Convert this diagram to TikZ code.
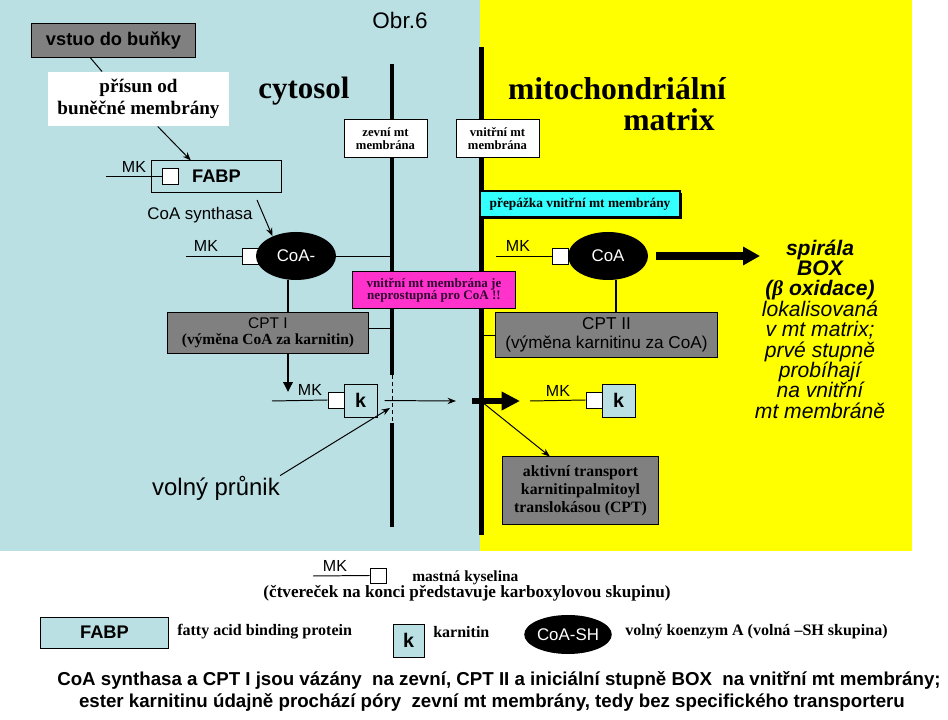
\documentclass[tikz,border=0pt]{standalone}
\usepackage{fontspec}
\setmainfont{Liberation Serif}
\setsansfont{Liberation Sans}
\usetikzlibrary{arrows.meta,shapes.geometric,shadows}

\definecolor{cytoblue}{RGB}{186,224,228}
\definecolor{mitoyellow}{RGB}{255,255,0}
\definecolor{boxgray}{RGB}{128,128,128}
\definecolor{septcyan}{RGB}{51,255,255}
\definecolor{pinkbox}{RGB}{255,51,204}
\definecolor{pinktext}{RGB}{51,0,51}
\newcommand{\pxu}{0.7113pt}
\newcommand{\fsz}[2]{\fontsize{#1pt}{#2pt}\selectfont}

\begin{document}
\begin{tikzpicture}[x=0.025cm,y=-0.025cm,>={Stealth[length=6pt,width=4.5pt]},
  thin line/.style={line width=0.7pt},
  membrane/.style={line width=2.9pt},
  box/.style={draw,line width=0.7pt,inner sep=0pt,align=center},
  gray box/.style={box,fill=boxgray},
  label box/.style={box,fill=white,font=\bfseries\fsz{9}{9.3}},
  sq/.style={draw,line width=0.7pt,fill=white,minimum size=16*\pxu,inner sep=0pt},
  kbox/.style={box,fill=cytoblue,minimum size=33*\pxu,font=\sffamily\bfseries\fsz{14}{16}},
  coa/.style={ellipse,fill=black,text=white,minimum width=80*\pxu,minimum height=48*\pxu,
    inner sep=0pt,font=\sffamily\fsz{12}{14}},
  mk/.style={font=\sffamily\fsz{11.4}{13},inner sep=0pt},
  legend/.style={inner sep=0pt,anchor=west,font=\bfseries\fsz{11.4}{13}},
  txt/.style={inner sep=0pt}]

  % background: cytosol and matrix
  \fill[cytoblue] (0,0) rectangle (480,551);
  \fill[mitoyellow] (480,0) rectangle (912,551);
  \useasboundingbox (0,0) rectangle (948,720);

  % membranes
  \coordinate (omTop) at (392,64);
  \coordinate (omGapA) at (392,375);
  \coordinate (omGapB) at (392,423);
  \coordinate (omBot) at (392,527);
  \coordinate (imTop) at (481.5,47);
  \coordinate (imBot) at (481.5,535);
  \draw[membrane] (omTop) -- (omGapA);
  \draw[thin line,dash pattern=on 3pt off 2pt] (omGapA) -- (omGapB);
  \draw[membrane] (omGapB) -- (omBot);
  \draw[membrane] (imTop) -- (imBot);

  % titles
  \node[txt,font=\sffamily\fsz{16}{18}] (obr) at (400,20) {Obr.6};
  \node[txt,font=\bfseries\fsz{22}{24}] (cyto) at (304,91) {cytosol};
  \node[txt,font=\bfseries\fsz{22.5}{24}] (mito) at (617,89) {mitochondriální};
  \node[txt,font=\bfseries\fsz{22.5}{24}] (matrix) at (669,120) {matrix};
  \node[label box,minimum width=83*\pxu,minimum height=37*\pxu] (zevni) at (385.5,138.5) {zevní mt\\membrána};
  \node[label box,minimum width=83*\pxu,minimum height=37*\pxu] (vnitrni) at (497.5,138.5) {vnitřní mt\\membrána};

  % entry into the cell
  \node[gray box,minimum width=163*\pxu,minimum height=33*\pxu,font=\sffamily\bfseries\fsz{13}{15}] (vstup) at (113.5,40.5) {vstuo do buňky};
  \node[box,draw=none,fill=white,minimum width=181*\pxu,minimum height=54*\pxu,font=\bfseries\fsz{13.6}{15.6}] (prisun) at (138.5,99) {přísun od\\buněčné membrány};
  \draw[thin line] (vstup.216) -- (prisun.143);

  % FABP
  \node[box,fill=cytoblue,minimum width=129*\pxu,minimum height=31*\pxu,font=\sffamily\bfseries\fsz{13}{15}] (fabp) at (216.5,176.5) {FABP};
  \node[sq] (sqF) at (170,176) {};
  \coordinate (mkF) at (106,176);
  \draw[thin line] (mkF) -- (sqF.west);
  \node[mk] (mkFlab) at (134,166.5) {MK};
  \draw[thin line,->] (prisun.-55) -- (fabp.148);

  % acyl-CoA in cytosol
  \node[txt,font=\sffamily\fsz{12}{14}] (synth) at (200,215) {CoA synthasa};
  \node[sq] (sqL) at (250,256) {};
  \node[coa] (coaL) at (296,256) {CoA-};
  \coordinate (mkL) at (186,256);
  \draw[thin line] (mkL) -- (sqL.west);
  \node[mk] (mkLlab) at (206,246) {MK};
  \coordinate (synthStart) at (257,200);
  \draw[thin line,->] (synthStart) -- (coaL.140);
  \draw[thin line] (coaL.east) -- (coaL.east -| omTop);

  % CPT I
  \node[gray box,minimum width=200*\pxu,minimum height=40*\pxu,font=\fsz{11}{11.4}] (cpt1) at (268,333) {{\sffamily CPT I}\\{\bfseries (výměna CoA za karnitin)}};
  \coordinate (cpt1Link) at ([yshift=3.5pt]cpt1.east);
  \draw[thin line] (cpt1Link) -- (cpt1Link -| omTop);
  \coordinate (coaLfoot) at ([xshift=-5.7pt]coaL.south);
  \coordinate (cptEnd) at (288,392);
  \draw[line width=2.1pt] (coaLfoot) -- (coaLfoot |- cpt1.north);
  \draw[line width=2.1pt,-{Triangle[length=7pt,width=6.5pt]}] (cpt1.south -| cptEnd) -- (cptEnd);

  % acyl-karnitin
  \coordinate (mkK) at (272,401);
  \node[sq] (sqK) at (336,400) {};
  \node[kbox] (kL) at (360.5,400.5) {k};
  \draw[thin line] (mkK) -- (sqK.west);
  \node[mk] (mkKlab) at (310,390) {MK};
  \coordinate (passEnd) at (456,401);
  \draw[thin line,->,shorten <=5pt] (kL.east) -- (passEnd);
  \node[txt,font=\sffamily\fsz{17}{19}] (prunik) at (216,488) {volný průnik};
  \coordinate (pore) at (390,408);
  \draw[thin line,->] (prunik.north east) -- (pore);

  % transport through inner membrane
  \coordinate (bigA) at (472,401);
  \coordinate (bigB) at (520,401);
  \draw[line width=4.5pt,-{Triangle[length=13pt,width=12.5pt]}] (bigA) -- (bigB);
  \node[gray box,minimum width=155*\pxu,minimum height=67*\pxu,font=\bfseries\fsz{11.2}{12.8}] (akt) at (580.5,490.5) {aktivní transport\\karnitinpalmitoyl\\translokásou (CPT)};
  \coordinate (aktStart) at (482,402);
  \draw[thin line,->] (aktStart) -- (akt.132);

  % notes on the membranes
  \node[box,fill=pinkbox,text=pinktext,minimum width=162*\pxu,minimum height=36*\pxu,font=\bfseries\fsz{9.3}{8.8}] (neprost) at (434,290) {vnitřní mt membrána je\\neprostupná pro CoA !!};
  \node[box,fill=septcyan,line width=1pt,minimum width=200*\pxu,minimum height=26*\pxu,font=\bfseries\fsz{9.5}{11},
    drop shadow={shadow xshift=1.5pt,shadow yshift=-1.5pt,fill=black,opacity=1}] (prepazka) at (580,204) {přepážka vnitřní mt membrány};

  % acyl-CoA in matrix
  \node[sq] (sqR) at (560.5,256) {};
  \node[coa] (coaR) at (608,256) {CoA};
  \coordinate (mkR) at (496,256);
  \draw[thin line] (mkR) -- (sqR.west);
  \node[mk] (mkRlab) at (518,246) {MK};
  \node[gray box,minimum width=221*\pxu,minimum height=44*\pxu,font=\sffamily\fsz{12.2}{13.5}] (cpt2) at (606.5,335) {CPT II\\(výměna karnitinu za CoA)};
  \coordinate (coaRfoot) at ([xshift=5.7pt]coaR.south);
  \draw[line width=2.1pt] (coaRfoot) -- (coaRfoot |- cpt2.north);
  \draw[thin line] (cpt2.west) -- (cpt2.west -| imTop);
  \node[sq] (sqK2) at (594,400) {};
  \node[kbox] (kR) at (618.5,400.5) {k};
  \coordinate (mkK2) at (530,401);
  \draw[thin line] (mkK2) -- (sqK2.west);
  \node[mk] (mkK2lab) at (558,391) {MK};

  % beta oxidation
  \coordinate (boxArrowEnd) at (760,256);
  \draw[line width=5pt,-{Triangle[length=12pt,width=12.5pt]},shorten <=5.7pt] (coaR.east) -- (boxArrowEnd);
  \node[txt,align=center,font=\sffamily\itshape\fsz{15}{14.5}] (boxtext) at (820,329) {\textbf{spirála}\\\textbf{BOX}\\\textbf{({\rmfamily β} oxidace)}\\lokalisovaná\\v mt matrix;\\prvé stupně\\probíhají\\na vnitřní\\mt membráně};

  % legend
  \coordinate (mkLeg) at (313,576);
  \node[sq,minimum width=16*\pxu,minimum height=15*\pxu] (sqLeg) at (378,575.5) {};
  \draw[thin line] (mkLeg) -- (sqLeg.west);
  \node[mk] (mkLeglab) at (335,566) {MK};
  \node[legend,font=\bfseries\fsz{11}{13}] (mastna) at (412,578) {mastná kyselina};
  \node[txt,font=\bfseries\fsz{12.2}{14}] (ctverecek) at (467,593) {(čtvereček na konci představuje karboxylovou skupinu)};
  \node[box,fill=cytoblue,minimum width=127*\pxu,minimum height=31*\pxu,font=\sffamily\bfseries\fsz{13}{15}] (fabpLeg) at (104.5,632.5) {FABP};
  \node[legend] (fabpText) at (177,632) {fatty acid binding protein};
  \node[kbox,minimum width=31*\pxu] (kLeg) at (408.5,640.5) {k};
  \node[legend] (kText) at (433,632) {karnitin};
  \node[coa,minimum height=39*\pxu] (coaLeg) at (568,634.5) {CoA-SH};
  \node[legend] (coaText) at (625,632) {volný koenzym A (volná –SH skupina)};

  % notes
  \node[txt,font=\sffamily\bfseries\fsz{13.3}{15}] (note1) at (499,680) {CoA synthasa a CPT I jsou vázány\ \ na zevní, CPT II a iniciální stupně BOX\ \ na vnitřní mt membrány;};
  \node[txt,font=\sffamily\bfseries\fsz{13.3}{15}] (note2) at (492,702) {ester karnitinu údajně prochází póry\ \ zevní mt membrány, tedy bez specifického transporteru};
\end{tikzpicture}
\end{document}
